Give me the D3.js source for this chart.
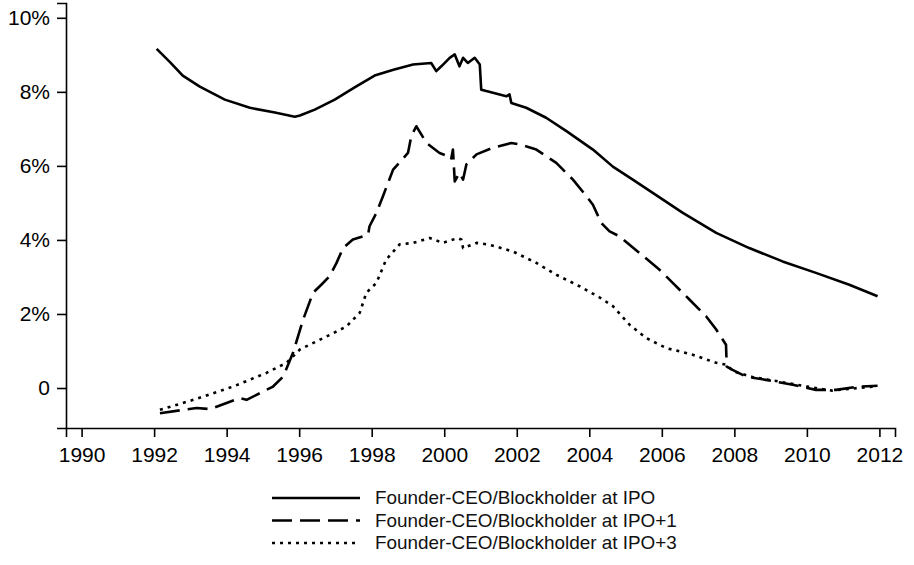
<!DOCTYPE html>
<html>
<head>
<meta charset="utf-8">
<script src="https://cdn.jsdelivr.net/npm/d3@7"></script>
<style>
  body { margin: 0; background: #fff; }
  svg { font-family: "Liberation Sans", Arial, sans-serif; }
  .axis path, .axis line { stroke: #000; stroke-width: 1.6; }
  .axis text { fill: #000; font-size: 21px; }
</style>
</head>
<body>
<div id="chart"></div>
<script>
// values (year, percent)
const ipoYears = [1992.07, 1992.43, 1992.79, 1993.26, 1993.95, 1994.64, 1995.33, 1995.88, 1996.02, 1996.43, 1996.98, 1997.53, 1998.08, 1998.6, 1999.14, 1999.64, 1999.78, 1999.92, 2000.15, 2000.29, 2000.42, 2000.52, 2000.65, 2000.84, 2000.98, 2001.02, 2001.16, 2001.71, 2001.8, 2001.85, 2002.26, 2002.81, 2003.37, 2004.1, 2004.65, 2005.2, 2005.75, 2006.58, 2007.5, 2008.41, 2009.33, 2010.25, 2011.17, 2011.95];
const ipoValues = [9.16, 8.81, 8.44, 8.14, 7.79, 7.57, 7.44, 7.33, 7.36, 7.52, 7.79, 8.12, 8.44, 8.6, 8.74, 8.78, 8.56, 8.69, 8.92, 9.01, 8.69, 8.92, 8.78, 8.92, 8.74, 8.06, 8.02, 7.88, 7.93, 7.7, 7.57, 7.3, 6.94, 6.44, 5.98, 5.63, 5.27, 4.73, 4.19, 3.78, 3.42, 3.11, 2.79, 2.48];

const ipo1Years = [1992.16, 1993.17, 1993.54, 1994.36, 1994.55, 1995.28, 1995.56, 1995.83, 1996.11, 1996.38, 1996.61, 1996.84, 1997.03, 1997.21, 1997.48, 1997.9, 1997.94, 1998.13, 1998.31, 1998.59, 1999.0, 1999.09, 1999.23, 1999.51, 1999.87, 2000.1, 2000.19, 2000.24, 2000.29, 2000.42, 2000.52, 2000.61, 2000.89, 2001.34, 2001.85, 2002.08, 2002.54, 2003.09, 2003.55, 2003.92, 2004.1, 2004.33, 2004.56, 2004.83, 2005.38, 2005.93, 2006.3, 2006.76, 2007.22, 2007.5, 2007.77, 2007.79, 2007.95, 2008.32, 2008.87, 2009.61, 2010.25, 2010.81, 2011.44, 2011.95];
const ipo1Values = [-0.68, -0.54, -0.57, -0.27, -0.32, 0.04, 0.31, 0.95, 1.85, 2.57, 2.79, 3.02, 3.38, 3.78, 4.01, 4.14, 4.37, 4.73, 5.18, 5.9, 6.35, 6.8, 7.07, 6.62, 6.35, 6.26, 6.17, 6.44, 5.58, 5.81, 5.63, 6.04, 6.31, 6.49, 6.62, 6.58, 6.44, 6.08, 5.63, 5.18, 4.95, 4.46, 4.23, 4.1, 3.65, 3.2, 2.84, 2.39, 1.94, 1.58, 1.17, 0.58, 0.49, 0.31, 0.22, 0.09, -0.05, -0.05, 0.04, 0.06];

const ipo3Years = [1992.16, 1993.08, 1994.18, 1995.1, 1995.65, 1996.02, 1996.75, 1997.3, 1997.67, 1997.85, 1998.13, 1998.4, 1998.77, 1999.14, 1999.6, 1999.96, 2000.37, 2000.47, 2000.52, 2000.89, 2001.25, 2001.89, 2002.54, 2003.09, 2003.73, 2004.28, 2004.65, 2005.11, 2005.57, 2006.12, 2006.85, 2007.5, 2007.77, 2008.0, 2008.5, 2009.2, 2010.0, 2010.7, 2011.4, 2011.95];
const ipo3Values = [-0.59, -0.32, 0.04, 0.41, 0.68, 1.04, 1.39, 1.66, 2.03, 2.57, 2.84, 3.47, 3.88, 3.92, 4.05, 3.92, 4.05, 4.01, 3.78, 3.92, 3.87, 3.69, 3.38, 3.06, 2.75, 2.45, 2.21, 1.71, 1.35, 1.08, 0.9, 0.68, 0.63, 0.44, 0.3, 0.18, 0.04, -0.07, 0.0, 0.05];

const xTicks = d3.range(1990, 2013, 2);
const yTicks = [0, 2, 4, 6, 8, 10];
const legendLabels = ['Founder-CEO/Blockholder at IPO', 'Founder-CEO/Blockholder at IPO+1', 'Founder-CEO/Blockholder at IPO+3'];

const width = 914, height = 565;
const plotLeft = 66, plotRight = 895, plotTop = 3, plotBottom = 428;

const svg = d3.select('#chart').append('svg')
  .attr('width', width)
  .attr('height', height);

const x = d3.scaleLinear().domain([1989.57, 2012.43]).range([plotLeft, plotRight]);
const y = d3.scaleLinear().domain([-1.08, 10.4]).range([plotBottom, plotTop]);

svg.append('g')
  .attr('class', 'axis')
  .attr('transform', 'translate(0,' + plotBottom + ')')
  .call(d3.axisBottom(x).tickValues(xTicks).tickFormat(d3.format('d')).tickSizeOuter(0).tickSize(9).tickPadding(10));

svg.append('g')
  .attr('class', 'axis')
  .attr('transform', 'translate(' + plotLeft + ',0)')
  .call(d3.axisLeft(y).tickValues(yTicks).tickFormat(function(d) { return d === 0 ? '0' : d + '%'; }).tickSizeOuter(0).tickSize(9).tickPadding(7));

const series = [
  { xs: ipoYears, ys: ipoValues, dash: null },
  { xs: ipo1Years, ys: ipo1Values, dash: '20,8' },
  { xs: ipo3Years, ys: ipo3Values, dash: '3,5' }
];

const line = d3.line()
  .x(function(d) { return x(d[0]); })
  .y(function(d) { return y(d[1]); });

series.forEach(function(s) {
  svg.append('path')
    .datum(d3.zip(s.xs, s.ys))
    .attr('fill', 'none')
    .attr('stroke', '#000')
    .attr('stroke-width', 2.6)
    .attr('stroke-linejoin', 'round')
    .attr('stroke-dasharray', s.dash)
    .attr('d', line);
});

// legend (the scanned original has a slightly wide font)
const legend = svg.append('g');
series.forEach(function(s, i) {
  const ly = 498 + i * 22.5;
  legend.append('line')
    .attr('x1', 272).attr('x2', 360)
    .attr('y1', ly).attr('y2', ly)
    .attr('stroke', '#000')
    .attr('stroke-width', 2.6)
    .attr('stroke-dasharray', s.dash);
  legend.append('text')
    .attr('transform', 'translate(375,' + ly + ') scale(1.05,1)')
    .attr('dy', '0.36em')
    .attr('font-size', 18)
    .attr('fill', '#111')
    .text(legendLabels[i]);
});
</script>
</body>
</html>
